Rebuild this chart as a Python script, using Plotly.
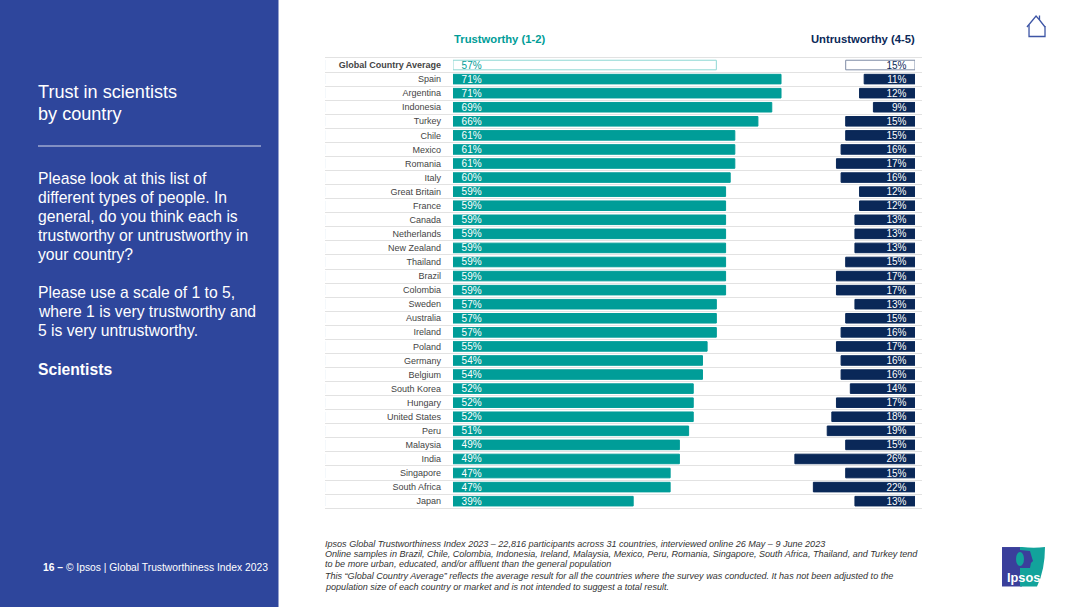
import plotly.graph_objects as go

countries = ["Global Country Average", "Spain", "Argentina", "Indonesia", "Turkey", "Chile", "Mexico", "Romania",
             "Italy", "Great Britain", "France", "Canada", "Netherlands", "New Zealand", "Thailand", "Brazil",
             "Colombia", "Sweden", "Australia", "Ireland", "Poland", "Germany", "Belgium", "South Korea", "Hungary",
             "United States", "Peru", "Malaysia", "India", "Singapore", "South Africa", "Japan"]
trustworthy = [57, 71, 71, 69, 66, 61, 61, 61, 60, 59, 59, 59, 59, 59, 59, 59, 59, 57, 57, 57, 55, 54, 54, 52, 52, 52,
               51, 49, 49, 47, 47, 39]
untrustworthy = [15, 11, 12, 9, 15, 15, 16, 17, 16, 12, 12, 13, 13, 13, 15, 17, 17, 13, 15, 16, 17, 16, 16, 14, 17,
                 18, 19, 15, 26, 15, 22, 13]
title_lines = ["Trust in scientists", "by country"]
body_lines = ["Please look at this list of", "different types of people. In", "general, do you think each is",
              "trustworthy or untrustworthy in", "your country?", "", "Please use a scale of 1 to 5,",
              "where 1 is very trustworthy and", "5 is very untrustworthy.", "", "<b>Scientists</b>"]
notes = ["Ipsos Global Trustworthiness Index 2023 – 22,816 participants across 31 countries, interviewed online 26 May – 9 June 2023",
         "Online samples in Brazil, Chile, Colombia, Indonesia, Ireland, Malaysia, Mexico, Peru, Romania, Singapore, South Africa, Thailand, and Turkey tend",
         "to be more urban, educated, and/or affluent than the general population",
         "This “Global Country Average” reflects the average result for all the countries where the survey was conducted. It has not been adjusted to the",
         "population size of each country or market and is not intended to suggest a total result."]

W, H = 1080, 607
FONT = "Liberation Sans"
TEAL, NAVY, BLUE = "#009D98", "#0A2858", "#2E469C"
PXU = 4.62
ROW = 14.07
PADROW = 0.2
top, bottom = 58 - PADROW * ROW, 508.2 + PADROW * ROW


def px(x):
    return x / W


def py(y):
    return 1 - y / H


fig = go.Figure()
ticktext = ["<b>%s</b>" % c if i == 0 else c for i, c in enumerate(countries)]
PAD = "\u00a0"
left_labels = [PAD * 2 + "%d%%" % a for a in trustworthy]
right_labels = ["%d%%" % a + PAD * 2 for a in untrustworthy]

# grid spanning the whole table (linear row scale so both outer rules are drawn)
fig.add_trace(go.Bar(x=[0] * len(countries), y=list(range(len(countries))), orientation="h", xaxis="x3", yaxis="y3",
                     showlegend=False, hoverinfo="skip", marker_color="rgba(0,0,0,0)"))
fig.add_trace(go.Bar(x=trustworthy, y=countries, orientation="h", xaxis="x", yaxis="y", showlegend=False,
                     text=left_labels, textposition="inside", insidetextanchor="start", textangle=0,
                     constraintext="none", cliponaxis=False,
                     textfont=dict(family=FONT, size=10,
                                   color=[TEAL] + ["white"] * (len(countries) - 1)),
                     marker=dict(color=["white"] + [TEAL] * (len(countries) - 1),
                                 line=dict(color=["#8FD8D4"] + [TEAL] * (len(countries) - 1), width=1))))
fig.add_trace(go.Bar(x=untrustworthy, y=countries, orientation="h", xaxis="x2", yaxis="y2", showlegend=False,
                     text=right_labels, textposition="inside", insidetextanchor="start", textangle=0,
                     constraintext="none", cliponaxis=False,
                     textfont=dict(family=FONT, size=10,
                                   color=[NAVY] + ["white"] * (len(countries) - 1)),
                     marker=dict(color=["white"] + [NAVY] * (len(countries) - 1),
                                 line=dict(color=["#7F8CA6"] + [NAVY] * (len(countries) - 1), width=1))))

ydom = [py(bottom), py(top)]
yrange = [len(countries) - 0.5 + PADROW, -0.5 - PADROW]
hidden_x = dict(visible=False, fixedrange=True)
lx0, lx1 = 453, 800
rx0, rx1 = 760, 915
grid_y = dict(domain=ydom, range=yrange, type="category", categoryorder="array", categoryarray=countries)
fig.update_layout(
    width=W, height=H, margin=dict(l=0, r=0, t=0, b=0), paper_bgcolor="white", plot_bgcolor="rgba(0,0,0,0)",
    font=dict(family=FONT), barmode="overlay", bargap=0.32, showlegend=False,
    xaxis=dict(hidden_x, domain=[px(lx0), px(lx1)], range=[0, (lx1 - lx0) / PXU]),
    xaxis2=dict(hidden_x, domain=[px(rx0), px(rx1)], range=[(rx1 - rx0) / PXU, 0]),
    xaxis3=dict(hidden_x, domain=[px(325), px(922)], range=[0, 1]),
    yaxis=dict(grid_y, anchor="x", showgrid=False, zeroline=False, showline=False, ticks="",
               tickmode="array", tickvals=countries, ticktext=ticktext, ticklabelstandoff=11,
               tickfont=dict(family=FONT, size=9, color="#444444")),
    yaxis2=dict(grid_y, anchor="x2", showgrid=False, zeroline=False, showticklabels=False, ticks=""),
    yaxis3=dict(domain=ydom, range=yrange, type="linear", anchor="x3", showgrid=True, gridcolor="#E2E2E2", gridwidth=1,
                tickmode="linear", tick0=0.5, dtick=1, zeroline=False, showticklabels=False, ticks=""),
)

shapes = [
    dict(type="rect", xref="paper", yref="paper", x0=0, x1=px(278.5), y0=0, y1=1, fillcolor=BLUE,
         line_width=0, layer="below"),
    dict(type="line", xref="paper", yref="paper", x0=px(38), x1=px(261), y0=py(146), y1=py(146),
         line=dict(color="#D5D9EA", width=1)),
]


def path(points, close=True):
    return "M " + " L ".join("%.4f,%.4f" % (px(a), py(b)) for a, b in points) + (" Z" if close else "")


# home icon
shapes.append(dict(type="path", xref="paper", yref="paper",
                   path=path([(1027, 27), (1036, 16), (1039.5, 20), (1039.5, 15.5), (1039.5, 20), (1045, 27)], False),
                   line=dict(color="#3D55A5", width=1.3)))
shapes.append(dict(type="path", xref="paper", yref="paper",
                   path=path([(1029, 25), (1029, 36.5), (1045, 36.5), (1045, 26)], False),
                   line=dict(color="#3D55A5", width=1.3)))
# logo
shapes.append(dict(type="path", xref="paper", yref="paper",
                   path=path([(1002, 547), (1022, 547), (1022, 586.5), (1002, 586.5)]),
                   fillcolor="#3A3F9B", line_width=0))
shapes.append(dict(type="path", xref="paper", yref="paper",
                   path="M %f,%f Q %f,%f %f,%f Q %f,%f %f,%f L %f,%f L %f,%f Z" % (
                       px(1022), py(547), px(1034), py(548.5), px(1045), py(547), px(1045), py(570), px(1037), py(586.5),
                       px(1020), py(586.5), px(1020), py(547)),
                   fillcolor="#12A39B", line_width=0))
shapes.append(dict(type="path", xref="paper", yref="paper",
                   path=path([(1020, 550), (1030, 551), (1032, 558), (1033, 561), (1031, 563), (1030, 568), (1020, 568)]),
                   fillcolor="#3A3F9B", line_width=0))
shapes.append(dict(type="circle", xref="paper", yref="paper", x0=px(1016), x1=px(1024), y0=py(566), y1=py(552),
                   fillcolor="#12A39B", line_width=0))
fig.update_layout(shapes=shapes)

ann = []


def text(x, y, s, size, color, anchor="left", **kw):
    ann.append(dict(xref="paper", yref="paper", x=px(x), y=py(y), text=s, showarrow=False, xanchor=anchor,
                    yanchor="middle", align=anchor, borderpad=0, borderwidth=0,
                    font=dict(family=FONT, size=size, color=color, **kw)))


text(454, 39, "<b>Trustworthy (1-2)</b>", 11.25, TEAL)
text(914.5, 39, "<b>Untrustworthy (4-5)</b>", 11.25, NAVY, "right")
for y, s in zip((92.5, 113.5), title_lines):
    text(38, y, s, 18.1, "white")
for i, s in enumerate(body_lines):
    if s:
        text(38, 178 + i * 19.1, s, 15.7, "white")
for y, s in zip((543.5, 553.5, 564, 575.5, 586.5), notes):
    text(324.5, y, "<i>%s</i>" % s, 9.06, "#333333")
text(43, 567, "<b>16 –</b> © Ipsos | Global Trustworthiness Index 2023", 10.3, "white")
text(1023, 577, "<b>Ipsos</b>", 12.8, "white", "center")
fig.update_layout(annotations=ann)

fig.write_html("out.html", config=dict(displayModeBar=False),
               post_script="document.body.style.margin='0';document.body.style.overflow='hidden';")
